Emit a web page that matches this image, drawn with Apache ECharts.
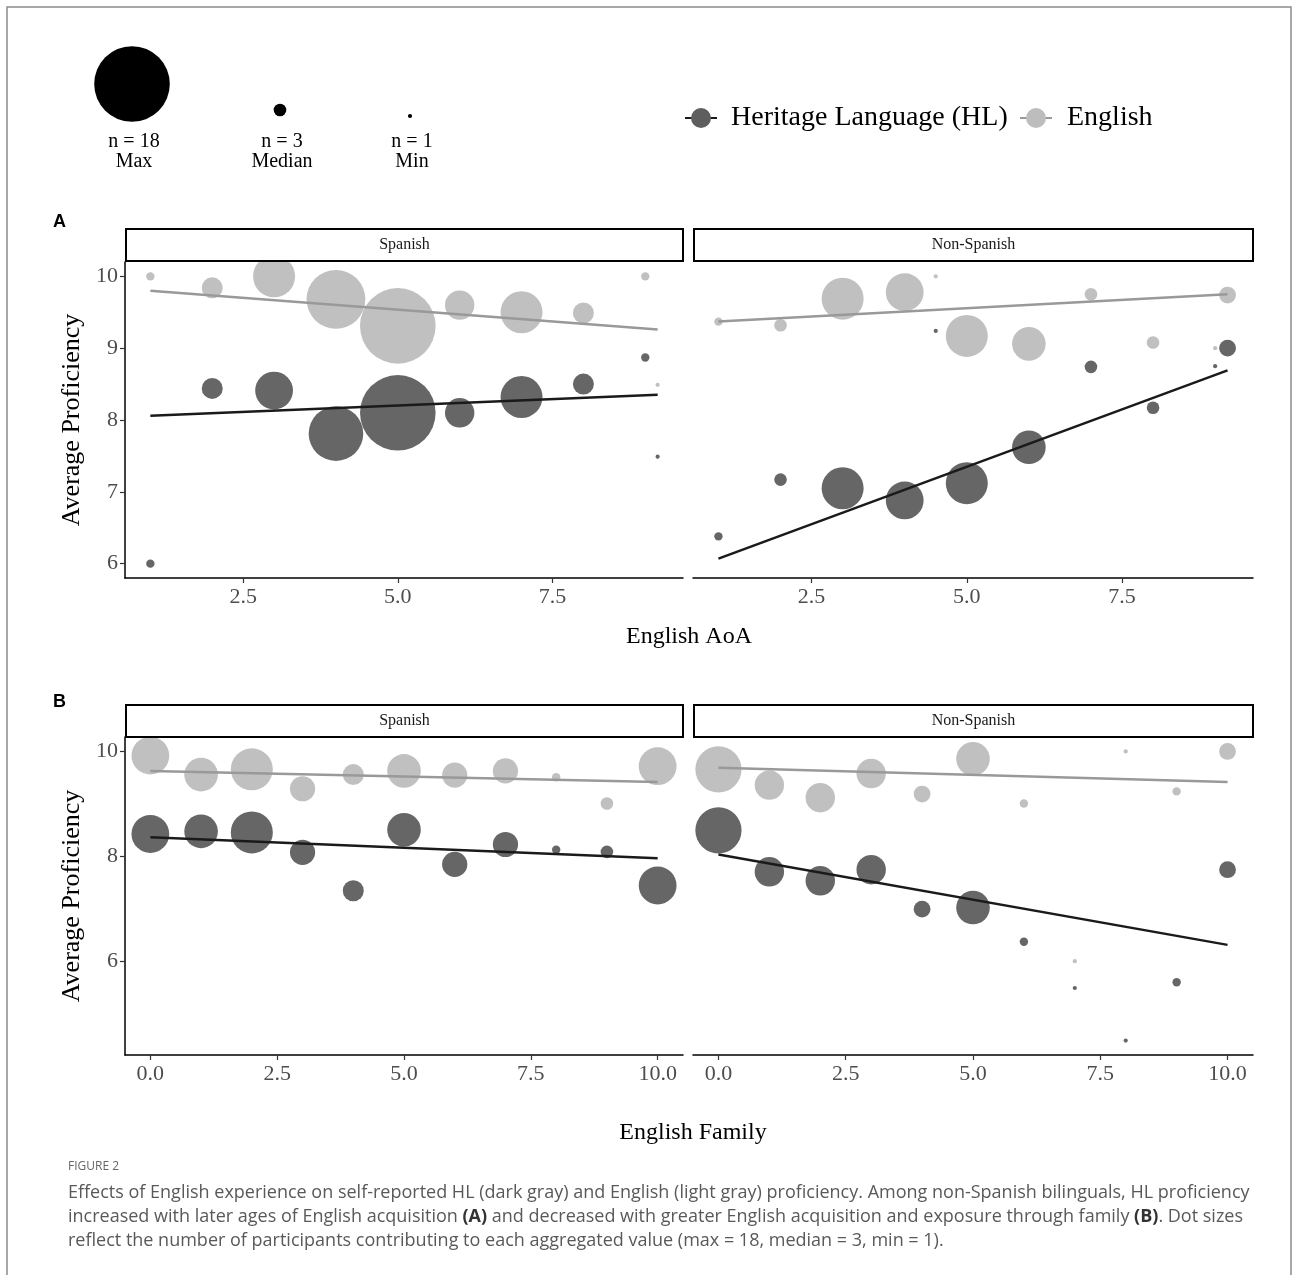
<!DOCTYPE html>
<html>
<head>
<meta charset="utf-8">
<script src="https://cdn.jsdelivr.net/npm/echarts@6/dist/echarts.min.js"></script>
<style>
html, body { margin: 0; padding: 0; background: #fff; }
#chart { width: 1293px; height: 1275px; }
</style>
</head>
<body>
<div id="chart"></div>
<script>
// points are [x, average proficiency, n participants]
var aoaSpanishHL = [[1, 6.0, 2], [2, 8.44, 5], [3, 8.41, 9], [4, 7.81, 13], [5, 8.10, 18], [6, 8.10, 7], [7, 8.32, 10], [8, 8.50, 5], [9, 8.87, 2], [9.2, 7.49, 1]];
var aoaSpanishEn = [[1, 10.0, 2], [2, 9.84, 5], [3, 10.0, 10], [4, 9.68, 14], [5, 9.31, 18], [6, 9.60, 7], [7, 9.50, 10], [8, 9.49, 5], [9, 10.0, 2], [9.2, 8.49, 1]];
var aoaOtherHL = [[1, 6.38, 2], [2, 7.17, 3], [3, 7.05, 10], [4, 6.88, 9], [4.5, 9.24, 1], [5, 7.12, 10], [6, 7.62, 8], [7, 8.74, 3], [8, 8.17, 3], [9, 8.75, 1], [9.2, 9.0, 4]];
var aoaOtherEn = [[1, 9.37, 2], [2, 9.32, 3], [3, 9.69, 10], [4, 9.78, 9], [4.5, 10.0, 1], [5, 9.17, 10], [6, 9.06, 8], [7, 9.75, 3], [8, 9.08, 3], [9, 9.0, 1], [9.2, 9.74, 4]];

var famSpanishHL = [[0, 8.43, 9], [1, 8.48, 8], [2, 8.46, 10], [3, 8.08, 6], [4, 7.35, 5], [5, 8.51, 8], [6, 7.85, 6], [7, 8.23, 6], [8, 8.13, 2], [9, 8.09, 3], [10, 7.45, 9]];
var famSpanishEn = [[0, 9.92, 9], [1, 9.56, 8], [2, 9.66, 10], [3, 9.29, 6], [4, 9.56, 5], [5, 9.63, 8], [6, 9.55, 6], [7, 9.63, 6], [8, 9.51, 2], [9, 9.01, 3], [10, 9.72, 9]];
var famOtherHL = [[0, 8.50, 11], [1, 7.71, 7], [2, 7.54, 7], [3, 7.75, 7], [4, 7.0, 4], [5, 7.03, 8], [6, 6.38, 2], [7, 5.50, 1], [8, 4.50, 1], [9, 5.61, 2], [10, 7.75, 4]];
var famOtherEn = [[0, 9.66, 11], [1, 9.36, 7], [2, 9.12, 7], [3, 9.58, 7], [4, 9.19, 4], [5, 9.86, 8], [6, 9.01, 2], [7, 6.01, 1], [8, 10.0, 1], [9, 9.24, 2], [10, 10.0, 4]];

// fitted lines, start and end
var aoaSpanishHLFit = [[1, 8.06], [9.2, 8.35]];
var aoaSpanishEnFit = [[1, 9.80], [9.2, 9.26]];
var aoaOtherHLFit = [[1, 6.07], [9.2, 8.69]];
var aoaOtherEnFit = [[1, 9.37], [9.2, 9.75]];
var famSpanishHLFit = [[0, 8.37], [10, 7.97]];
var famSpanishEnFit = [[0, 9.63], [10, 9.42]];
var famOtherHLFit = [[0, 8.04], [10, 6.32]];
var famOtherEnFit = [[0, 9.69], [10, 9.42]];

var aoaTicks = [2.5, 5, 7.5];
var famTicks = [0, 2.5, 5, 7.5, 10];
var aoaYTicks = [6, 7, 8, 9, 10];
var famYTicks = [6, 8, 10];

var sizeKeyN = [18, 3, 1];
var sizeKeyLabel = ['Max', 'Median', 'Min'];

var HL_COL = '#5e5e5e', EN_COL = '#bdbdbd';
var HL_LINE = '#1a1a1a', EN_LINE = '#999999';
var SERIF = 'Liberation Serif';
var PX_PER_N = 4.2;

function xAx(g, min, max, ticks) {
    return {
        type: 'value', gridIndex: g, min: min, max: max,
        axisLine: { onZero: false, lineStyle: { color: '#000', width: 1.5 } },
        axisTick: { customValues: ticks, length: 5, lineStyle: { color: '#333', width: 1.2 } },
        axisLabel: { customValues: ticks, formatter: function (v) { return v.toFixed(1); },
            fontFamily: SERIF, fontSize: 22, color: '#4d4d4d', margin: 8 },
        splitLine: { show: false }
    };
}

function yAx(g, min, max, ticks, first) {
    return {
        type: 'value', gridIndex: g, min: min, max: max,
        name: first ? 'Average Proficiency' : '',
        nameLocation: 'middle', nameGap: 40,
        nameTextStyle: { fontFamily: SERIF, fontSize: 26, color: '#000' },
        axisLine: { show: first, onZero: false, lineStyle: { color: '#000', width: 1.5 } },
        axisTick: { show: first, customValues: ticks, length: 5, lineStyle: { color: '#333', width: 1.2 } },
        axisLabel: { show: first, customValues: ticks, fontFamily: SERIF, fontSize: 22, color: '#4d4d4d', margin: 7 },
        splitLine: { show: false }
    };
}

function pts(g, data, color) {
    return {
        type: 'scatter', xAxisIndex: g, yAxisIndex: g, data: data, silent: true,
        symbolSize: function (d) { return d[2] * PX_PER_N; },
        itemStyle: { color: color, opacity: 0.95 }
    };
}

function fit(g, data, color) {
    return {
        type: 'line', xAxisIndex: g, yAxisIndex: g, data: data, silent: true,
        symbol: 'none', z: 3, lineStyle: { color: color, width: 2.5 }
    };
}

var graphics = [];
// outer frame
graphics.push({ type: 'polyline', shape: { points: [[7, 1275], [7, 7], [1291, 7], [1291, 1275]] },
    style: { stroke: '#8c8c8c', lineWidth: 1.5, fill: null } });

// size key
var keyX = [132, 280, 410], keyY = [84, 110, 116];
sizeKeyN.forEach(function (n, i) {
    graphics.push({ type: 'circle', shape: { cx: keyX[i], cy: keyY[i], r: n * PX_PER_N / 2 }, style: { fill: '#000' } });
    graphics.push({ type: 'text', x: keyX[i] + 2, y: 152, style: { text: 'n = ' + n + '\n' + sizeKeyLabel[i],
        font: '20px ' + SERIF, fill: '#000', align: 'center', verticalAlign: 'middle', lineHeight: 20 } });
});

// colour key
function colourKey(x0, color, label, tx) {
    graphics.push({ type: 'line', shape: { x1: x0, y1: 118, x2: x0 + 32, y2: 118 }, style: { stroke: color === HL_COL ? HL_LINE : EN_LINE, lineWidth: 2 } });
    graphics.push({ type: 'circle', shape: { cx: x0 + 16, cy: 118, r: 10 }, style: { fill: color } });
    graphics.push({ type: 'text', x: tx, y: 118, style: { text: label, font: '28px ' + SERIF, fill: '#000', verticalAlign: 'middle' } });
}
colourKey(685, HL_COL, 'Heritage Language (HL)', 731);
colourKey(1020, EN_COL, 'English', 1067);

// panel letters
graphics.push({ type: 'text', x: 53, y: 222, style: { text: 'A', font: 'bold 18px Liberation Sans', fill: '#000', verticalAlign: 'middle' } });
graphics.push({ type: 'text', x: 53, y: 702, style: { text: 'B', font: 'bold 18px Liberation Sans', fill: '#000', verticalAlign: 'middle' } });

// facet strips
function strip(x, y, w, label) {
    graphics.push({ type: 'rect', z: 100, shape: { x: x, y: y, width: w, height: 32 }, style: { fill: '#fff', stroke: '#000', lineWidth: 2 } });
    graphics.push({ type: 'text', z: 101, x: x + w / 2, y: y + 16, style: { text: label, font: '16px ' + SERIF, fill: '#1a1a1a', align: 'center', verticalAlign: 'middle' } });
}
strip(126, 229, 557, 'Spanish');
strip(694, 229, 559, 'Non-Spanish');
strip(126, 705, 557, 'Spanish');
strip(694, 705, 559, 'Non-Spanish');

// x titles shared across facets
graphics.push({ type: 'text', x: 689, y: 637, style: { text: 'English AoA', font: '24px ' + SERIF, fill: '#000', align: 'center', verticalAlign: 'middle' } });
graphics.push({ type: 'text', x: 693, y: 1133, style: { text: 'English Family', font: '24px ' + SERIF, fill: '#000', align: 'center', verticalAlign: 'middle' } });

// caption
var capFont = '18px Open Sans';
graphics.push({ type: 'text', x: 68, y: 1167, style: { text: 'FIGURE 2', font: '12px Open Sans', fill: '#666', verticalAlign: 'middle' } });
var capLines = [
    'Effects of English experience on self-reported HL (dark gray) and English (light gray) proficiency. Among non-Spanish bilinguals, HL proficiency',
    'increased with later ages of English acquisition {b|(A)} and decreased with greater English acquisition and exposure through family {b|(B)}. Dot sizes',
    'reflect the number of participants contributing to each aggregated value (max = 18, median = 3, min = 1).'
];
capLines.forEach(function (t, i) {
    graphics.push({ type: 'text', x: 68, y: 1193 + i * 24, style: { text: t, font: capFont, fill: '#595959', verticalAlign: 'middle',
        rich: { b: { font: 'bold 18px Open Sans', fill: '#333' } } } });
});

var option = {
    animation: false,
    backgroundColor: '#fff',
    grid: [
        { left: 125, top: 262, width: 558, height: 316 },
        { left: 693, top: 262, width: 560, height: 316 },
        { left: 125, top: 737, width: 558, height: 318 },
        { left: 693, top: 737, width: 560, height: 318 }
    ],
    xAxis: [
        xAx(0, 0.59, 9.61, aoaTicks),
        xAx(1, 0.59, 9.61, aoaTicks),
        xAx(2, -0.5, 10.5, famTicks),
        xAx(3, -0.5, 10.5, famTicks)
    ],
    yAxis: [
        yAx(0, 5.8, 10.2, aoaYTicks, true),
        yAx(1, 5.8, 10.2, aoaYTicks, false),
        yAx(2, 4.225, 10.275, famYTicks, true),
        yAx(3, 4.225, 10.275, famYTicks, false)
    ],
    series: [
        pts(0, aoaSpanishEn, EN_COL), pts(0, aoaSpanishHL, HL_COL),
        fit(0, aoaSpanishEnFit, EN_LINE), fit(0, aoaSpanishHLFit, HL_LINE),
        pts(1, aoaOtherEn, EN_COL), pts(1, aoaOtherHL, HL_COL),
        fit(1, aoaOtherEnFit, EN_LINE), fit(1, aoaOtherHLFit, HL_LINE),
        pts(2, famSpanishEn, EN_COL), pts(2, famSpanishHL, HL_COL),
        fit(2, famSpanishEnFit, EN_LINE), fit(2, famSpanishHLFit, HL_LINE),
        pts(3, famOtherEn, EN_COL), pts(3, famOtherHL, HL_COL),
        fit(3, famOtherEnFit, EN_LINE), fit(3, famOtherHLFit, HL_LINE)
    ],
    graphic: graphics
};

var myChart = echarts.init(document.getElementById('chart'));
myChart.setOption(option);
</script>
</body>
</html>
